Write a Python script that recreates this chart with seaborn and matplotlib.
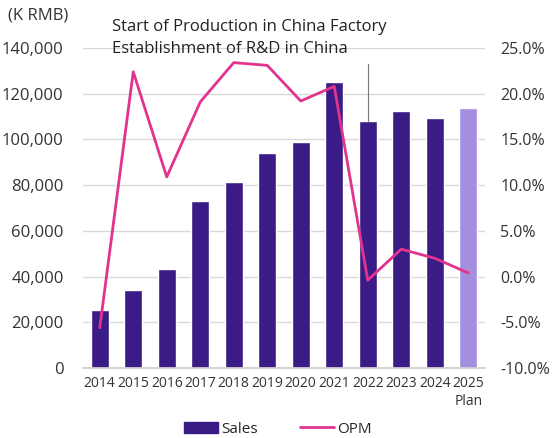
import numpy as np
import pandas as pd
import seaborn as sns
import matplotlib.pyplot as plt
from matplotlib.patches import Patch
from matplotlib.lines import Line2D
from matplotlib.ticker import FuncFormatter

years = ["2014", "2015", "2016", "2017", "2018", "2019", "2020", "2021", "2022", "2023", "2024", "2025\nPlan"]
sales = [25500, 34000, 43300, 73000, 81500, 94000, 99000, 125200, 108200, 112500, 109400, 113700]
opm = [-5.6, 22.4, 10.9, 19.1, 23.4, 23.1, 19.2, 20.8, -0.4, 3.0, 2.0, 0.4]

dark = "#3b1c86"
light = "#a48ee0"
pink = "#e2338f"
bar_colors = [dark] * 11 + [light]

df = pd.DataFrame({"Year": years, "Sales": sales, "OPM": opm})

sns.set_theme(style="white")
plt.rcParams['font.family'] = ['Open Sans', 'DejaVu Sans']

fig = plt.figure(figsize=(5.56, 4.38), dpi=100)
ax = fig.add_axes([83 / 556, 1 - 368 / 438, 402 / 556, 320 / 438])

sns.barplot(data=df, x="Year", y="Sales", hue="Year", palette=bar_colors, legend=False,
            width=0.54, saturation=1, ax=ax)
ax.set_ylim(0, 140000)
ax.set_yticks(range(0, 140001, 20000))
ax.yaxis.set_major_formatter(FuncFormatter(lambda v, p: f"{int(v):,}"))
ax.yaxis.grid(True, color="#d9d9d9", linewidth=1)
ax.set_axisbelow(True)
ax.set_xlabel("")
ax.set_ylabel("")
for s in ["top", "right", "left"]:
    ax.spines[s].set_visible(False)
ax.spines["bottom"].set_color("#d0d0d0")
ax.tick_params(axis="y", length=0, labelsize=12, colors="#333333", pad=14)
ax.tick_params(axis="x", length=0, labelsize=10, colors="#333333", pad=6)
ax.set_xticks(np.arange(-0.5, len(years), 1), minor=True)
ax.tick_params(axis="x", which="minor", length=5, color="#d0d0d0")

ax2 = ax.twinx()
sns.lineplot(x=np.arange(len(years)), y=df["OPM"], color=pink, linewidth=2, ax=ax2)
ax2.set_ylim(-10, 25)
ax2.set_yticks(np.arange(-10, 25.1, 5))
ax2.yaxis.set_major_formatter(FuncFormatter(lambda v, p: f"{v:.1f}%"))
ax2.tick_params(axis="y", length=0, labelsize=11.5, colors="#333333", pad=11)
ax2.set_ylabel("")
for s in ["top", "right", "left", "bottom"]:
    ax2.spines[s].set_visible(False)
ax.set_xlim(-0.5, len(years) - 0.5)

fig.text(8 / 556, 1 - 15 / 438, "(K RMB)", fontsize=12, color="#333333", va="center")
ax.text(0.37, 149000, "Start of Production in China Factory", fontsize=12, color="#222222", va="center")
ax.text(0.37, 139500, "Establishment of R&D in China", fontsize=12, color="#222222", va="center")
ax.plot([8, 8], [sales[8], 133000], color="#777777", linewidth=0.8, clip_on=False)

handles = [Patch(color=dark, label="Sales"), Line2D([0], [0], color=pink, linewidth=2, label="OPM")]
fig.legend(handles=handles, loc="lower center", bbox_to_anchor=(0.5, -0.028), ncol=2, frameon=False,
           fontsize=11, handlelength=2.2, handletextpad=0.2, columnspacing=2.8)

fig.savefig("out.png", dpi=100)
